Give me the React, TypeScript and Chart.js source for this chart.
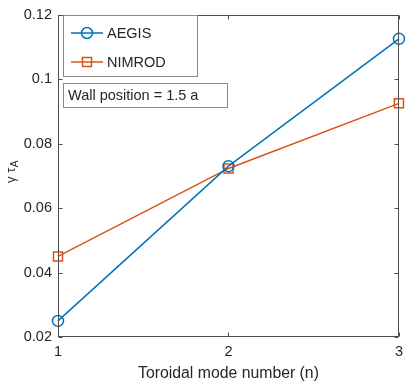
import React, { useEffect, useRef } from 'react';
import { Chart, registerables } from 'chart.js';

Chart.register(...registerables);

const modes = [1, 2, 3];
const aegis = [0.025, 0.073, 0.1125];
const nimrod = [0.045, 0.0723, 0.0925];
const xTicks = [1, 2, 3];
const yTicks = [0.02, 0.04, 0.06, 0.08, 0.1, 0.12];
const seriesNames = ['AEGIS', 'NIMROD'];
const annotation = 'Wall position = 1.5 a';
const xTitle = 'Toroidal mode number (n)';
const yTitleMain = 'γ τ';
const yTitleSub = 'A';

const BLUE = '#0072BD';
const ORANGE = '#D95319';
const TEXT = '#262626';
const FONT = '"Liberation Sans", Arial, Helvetica, sans-serif';

function drawMarker(ctx: CanvasRenderingContext2D, style: string, x: number, y: number, color: string) {
  ctx.save();
  ctx.strokeStyle = color;
  ctx.lineWidth = 1.5;
  ctx.beginPath();
  if (style === 'circle') {
    ctx.arc(x, y, 5.5, 0, Math.PI * 2);
  } else {
    ctx.rect(x - 4.5, y - 4.5, 9, 9);
  }
  ctx.stroke();
  ctx.restore();
}

const framePlugin = {
  id: 'frame',
  afterDatasetsDraw(chart: any) {
    const { ctx, chartArea: a, scales } = chart;
    const xs = scales.x;
    const ys = scales.y;
    ctx.save();
    ctx.strokeStyle = '#4d4d4d';
    ctx.lineWidth = 1;
    const L = Math.round(a.left) + 0.5;
    const R = Math.round(a.right) - 0.5;
    const T = Math.round(a.top) + 0.5;
    const B = Math.round(a.bottom) - 0.5;
    ctx.strokeRect(L, T, R - L, B - T);
    const tl = 4;
    ctx.beginPath();
    xTicks.forEach((v) => {
      const px = Math.round(xs.getPixelForValue(v)) + 0.5;
      ctx.moveTo(px, B);
      ctx.lineTo(px, B - tl);
      ctx.moveTo(px, T);
      ctx.lineTo(px, T + tl);
    });
    yTicks.forEach((v) => {
      const py = Math.round(ys.getPixelForValue(v)) + 0.5;
      ctx.moveTo(L, py);
      ctx.lineTo(L + tl, py);
      ctx.moveTo(R, py);
      ctx.lineTo(R - tl, py);
    });
    ctx.stroke();

    // legend box
    ctx.fillStyle = '#ffffff';
    ctx.fillRect(63.5, 15.5, 134, 61);
    ctx.strokeStyle = '#8a8a8a';
    ctx.strokeRect(63.5, 15.5, 134, 61);
    const items = [
      { name: seriesNames[0], color: BLUE, style: 'circle', y: 33 },
      { name: seriesNames[1], color: ORANGE, style: 'rect', y: 62 },
    ];
    ctx.font = `14.5px ${FONT}`;
    ctx.textBaseline = 'middle';
    ctx.textAlign = 'left';
    items.forEach((it) => {
      ctx.strokeStyle = it.color;
      ctx.lineWidth = 1.5;
      ctx.beginPath();
      ctx.moveTo(71, it.y);
      ctx.lineTo(103, it.y);
      ctx.stroke();
      drawMarker(ctx, it.style, 87, it.y, it.color);
      ctx.fillStyle = TEXT;
      ctx.fillText(it.name, 107, it.y + 0.5);
    });

    // annotation box
    ctx.fillStyle = '#ffffff';
    ctx.fillRect(63.5, 83.5, 164, 24);
    ctx.strokeStyle = '#8a8a8a';
    ctx.lineWidth = 1;
    ctx.strokeRect(63.5, 83.5, 164, 24);
    ctx.fillStyle = TEXT;
    ctx.font = `14.5px ${FONT}`;
    ctx.fillText(annotation, 68, 96);

    // y title
    ctx.save();
    ctx.translate(15, 172);
    ctx.rotate(-Math.PI / 2);
    ctx.font = `13px ${FONT}`;
    ctx.textBaseline = 'alphabetic';
    const mainW = ctx.measureText(yTitleMain).width;
    ctx.font = `10px ${FONT}`;
    const subW = ctx.measureText(yTitleSub).width;
    const startX = -(mainW + subW) / 2;
    ctx.font = `13px ${FONT}`;
    ctx.fillText(yTitleMain, startX, 0);
    ctx.font = `10px ${FONT}`;
    ctx.fillText(yTitleSub, startX + mainW + 0.5, 3);
    ctx.restore();

    ctx.restore();
  },
};

export default function App() {
  const ref = useRef<HTMLCanvasElement | null>(null);
  useEffect(() => {
    if (!ref.current) return;
    const chart = new Chart(ref.current, {
      type: 'line',
      data: {
        labels: modes,
        datasets: [
          {
            label: seriesNames[0],
            data: modes.map((m, i) => ({ x: m, y: aegis[i] })),
            borderColor: BLUE,
            backgroundColor: 'rgba(0,0,0,0)',
            borderWidth: 1.5,
            pointStyle: 'circle',
            pointRadius: 5.5,
            pointBorderWidth: 1.5,
            pointBackgroundColor: 'rgba(0,0,0,0)',
            pointBorderColor: BLUE,
            clip: false as any,
          },
          {
            label: seriesNames[1],
            data: modes.map((m, i) => ({ x: m, y: nimrod[i] })),
            borderColor: ORANGE,
            backgroundColor: 'rgba(0,0,0,0)',
            borderWidth: 1.5,
            pointStyle: 'rect',
            pointRadius: 6.4,
            pointBorderWidth: 1.5,
            pointBackgroundColor: 'rgba(0,0,0,0)',
            pointBorderColor: ORANGE,
            clip: false as any,
          },
        ],
      },
      options: {
        responsive: false,
        animation: false,
        devicePixelRatio: 1,
        layout: { padding: { top: 11, right: 10, left: 0, bottom: 0 } },
        plugins: { legend: { display: false }, tooltip: { enabled: false } },
        scales: {
          x: {
            type: 'linear',
            min: 1,
            max: 3,
            grid: { display: false, drawTicks: false },
            border: { display: false },
            afterBuildTicks: (s: any) => {
              s.ticks = xTicks.map((value) => ({ value }));
            },
            afterFit: (s: any) => {
              s.height = 47;
            },
            ticks: {
              color: TEXT,
              font: { family: FONT, size: 14.5 },
              padding: 6,
              maxRotation: 0,
              callback: (v: any) => String(v),
            },
            title: {
              display: true,
              text: xTitle,
              color: TEXT,
              font: { family: FONT, size: 15.8 },
              padding: { top: 0, bottom: 1 },
            },
          },
          y: {
            type: 'linear',
            min: 0.02,
            max: 0.12,
            grid: { display: false, drawTicks: false },
            border: { display: false },
            afterBuildTicks: (s: any) => {
              s.ticks = yTicks.map((value) => ({ value }));
            },
            afterFit: (s: any) => {
              s.width = 58;
            },
            ticks: {
              color: TEXT,
              font: { family: FONT, size: 14.5 },
              padding: 6,
              callback: (v: any) => String(Number(Number(v).toFixed(2))),
            },
          },
        },
      },
      plugins: [framePlugin],
    });
    return () => chart.destroy();
  }, []);
  return (
    <div style={{ position: 'absolute', left: 0, top: 0, width: 409, height: 384, background: '#fff' }}>
      <canvas ref={ref} width={409} height={384} style={{ display: 'block' }} />
    </div>
  );
}
